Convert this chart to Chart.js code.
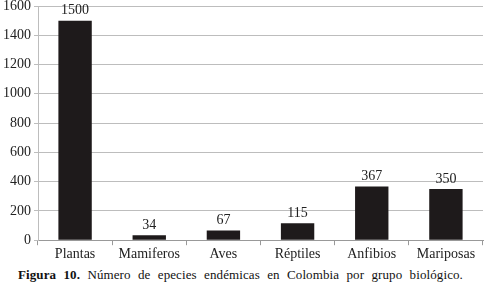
<!DOCTYPE html>
<html><head><meta charset="utf-8">
<script src="https://cdn.jsdelivr.net/npm/chart.js@4/dist/chart.umd.min.js"></script>
<style>
html,body{margin:0;padding:0;background:#fff;overflow:hidden;}
#wrap{position:relative;width:485px;height:264px;overflow:hidden;}
#c{position:absolute;left:0;top:-4px;}
#cap{position:absolute;left:18px;top:267px;width:450px;font-family:"Liberation Serif","Times New Roman","DejaVu Serif",serif;font-size:13px;color:#111;word-spacing:4px;letter-spacing:0.1px;white-space:nowrap;}
</style></head><body>
<div id="wrap"><canvas id="c" width="485" height="268"></canvas></div>
<div id="cap"><b>Figura 10.</b> Número de epecies endémicas en Colombia por grupo biológico.</div>
<script>
const categories = ["Plantas","Mamiferos","Aves","Réptiles","Anfibios","Mariposas"];
const values = [1500,34,67,115,367,350];
const yTicks = [0,200,400,600,800,1000,1200,1400,1600];
const FAM = '"Liberation Serif", "Times New Roman", "DejaVu Serif", serif';

const labelPlugin = {
  id:'lbl',
  afterDatasetsDraw(chart){
    const ctx = chart.ctx;
    const meta = chart.getDatasetMeta(0);
    ctx.save();
    ctx.font = '14px ' + FAM;
    ctx.fillStyle = '#222';
    ctx.textAlign = 'center';
    ctx.textBaseline = 'bottom';
    meta.data.forEach((b,i)=>{ ctx.fillText(String(values[i]), b.x, b.y - 3); });
    ctx.restore();
  }
};

new Chart(document.getElementById('c'), {
  type:'bar',
  data:{labels:categories, datasets:[{data:values, backgroundColor:'#1e1a1b', barPercentage:0.45, categoryPercentage:1}]},
  options:{
    responsive:false, animation:false,
    layout:{padding:{top:0,right:2,left:0,bottom:0}},
    plugins:{legend:{display:false}, tooltip:{enabled:false}},
    scales:{
      x:{
        offset:true,
        grid:{offset:true, drawOnChartArea:false, color:'#999', tickLength:5},
        border:{color:'#999'},
        ticks:{color:'#222', font:{family:FAM, size:14}, padding:1}
      },
      y:{
        min:0, max:1600,
        afterBuildTicks(ax){ ax.ticks = yTicks.map(v=>({value:v})); },
        grid:{color:'#bdbdbd', tickLength:4},
        border:{color:'#bdbdbd'},
        ticks:{color:'#222', font:{family:FAM, size:14, lineHeight:1}, padding:3, callback:(v)=>String(v)}
      }
    }
  },
  plugins:[labelPlugin]
});
</script>
</body></html>
